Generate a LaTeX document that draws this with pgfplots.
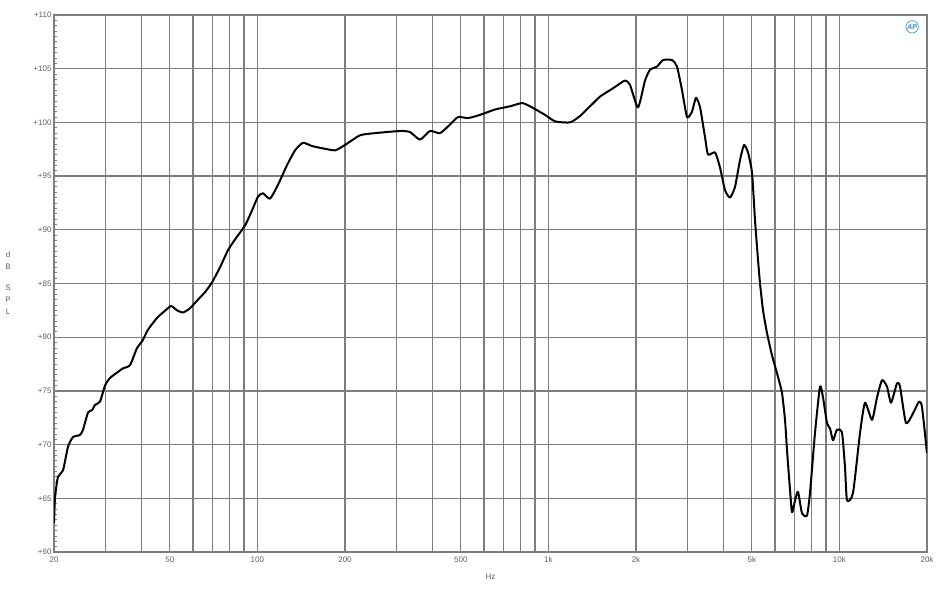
\documentclass[border=0pt]{standalone}
\usepackage{pgfplots}
\pgfplotsset{compat=1.18}
\usepackage{fontspec}
\setmainfont{Liberation Sans}
\definecolor{gridgray}{RGB}{125,125,125}
\definecolor{labgray}{RGB}{95,95,95}
\definecolor{apblue}{RGB}{40,140,190}
\begin{document}
\begin{tikzpicture}[x=1pt,y=1pt]
\useasboundingbox (0,0) rectangle (942,600);
\begin{axis}[
  at={(54pt,48pt)}, anchor=south west,
  scale only axis, width=873pt, height=537pt,
  xmode=log, xmin=20, xmax=20000, ymin=60, ymax=110,
  log basis x=10,
  xtick={20,50,100,200,500,1000,2000,5000,10000,20000},
  xticklabels={20,50,100,200,500,1k,2k,5k,10k,20k},
  minor xtick={30,40,60,70,80,90,300,400,600,700,800,900,3000,4000,6000,7000,8000,9000},
  ytick={60,65,70,75,80,85,90,95,100,105,110},
  yticklabels={+60,+65,+70,+75,+80,+85,+90,+95,+100,+105,+110},
  minor y tick num=9,
  xmajorgrids=true, xminorgrids=true, ymajorgrids=true,
  major grid style={gridgray, line width=1.3pt},
  minor grid style={gridgray, line width=1.3pt},
  axis line style={gridgray, line width=1.4pt},
  tick pos=left, tick align=inside,
  major tick length=0pt, minor tick length=3.5pt,
  minor tick style={gridgray, line width=0.7pt},
  tick label style={font=\fontsize{8}{9}\selectfont, text=labgray},
  xticklabel style={yshift=-1pt},
  yticklabel style={xshift=1pt},
  xlabel={Hz},
  xlabel style={font=\fontsize{8}{9}\selectfont, text=labgray, at={(axis description cs:0.5,-0.047)}, anchor=center},
  ylabel={d\\B\\[9pt]S\\P\\L},
  ylabel style={rotate=-90, align=center, font=\fontsize{8}{12}\selectfont, text=labgray, at={(axis description cs:-0.0527,0.50)}, anchor=center},
  clip=true,
]
\addplot[black, line width=2pt, line join=round, smooth, tension=0.35] table {
f dB
20 62.7
20.16 65.1
20.64 67.0
21.48 67.6
22.34 69.8
23.24 70.7
24.56 70.9
25.17 71.4
26.18 73.0
27.02 73.2
27.66 73.7
28.78 74.0
29.94 75.5
31.14 76.2
32.92 76.7
34.52 77.1
36.50 77.4
38.58 79.0
40.12 79.6
42.08 80.7
45.18 81.8
47.38 82.3
50.48 82.9
52.94 82.5
55.52 82.3
58.68 82.7
62.50 83.5
66.08 84.2
69.82 85.1
74.38 86.5
79.24 88.1
83.76 89.1
90.66 90.4
95.80 91.8
100.5 93.1
104.5 93.4
110.5 92.9
117.7 94.2
126.3 96.0
134.7 97.4
143.4 98.1
154.0 97.8
166.7 97.6
184.8 97.4
200 97.9
225.2 98.8
253.6 99.0
309.0 99.2
334.6 99.1
362.0 98.4
391.8 99.2
424.2 99.0
459.0 99.8
489.0 100.5
529.4 100.4
582.0 100.7
655.4 101.2
738.0 101.5
811.4 101.8
864.4 101.5
973.6 100.7
1053.6 100.1
1186 100.0
1285 100.6
1390 101.5
1504 102.4
1628 103.0
1694 103.3
1833 103.9
1907 103.5
2032 101.4
2148 103.9
2234 104.9
2362 105.2
2476 105.8
2660 105.8
2766 105.2
2878 103.0
2994 100.5
3114 101.0
3216 102.3
3320 101.4
3454 98.6
3536 97.0
3738 97.2
3888 95.8
4044 93.7
4208 93.0
4378 94.0
4554 96.5
4700 97.9
4852 97.2
5008 95.3
5128 90.9
5252 87.2
5336 85.0
5464 82.5
5638 80.4
5868 78.3
6152 76.3
6350 74.8
6502 72.3
6606 69.5
6764 65.8
6874 63.7
7040 64.8
7208 65.6
7438 63.6
7738 63.4
7924 65.5
8244 71.1
8576 75.4
8782 74.4
9066 72.0
9284 71.5
9506 70.4
9812 71.4
10208 71.1
10452 67.9
10620 64.8
11136 65.5
11772 71.1
12246 73.9
12942 72.3
13466 74.4
14010 76.0
14574 75.4
15044 73.9
15772 75.7
16152 75.4
16936 72.0
17902 72.9
18772 74.0
19222 73.5
20000 69.2
};
\node[font=\fontsize{7}{8}\selectfont\bfseries\itshape, text=apblue, draw=apblue, circle, line width=0.6pt, inner sep=0.6pt] at (axis description cs:0.983,0.978) {AP};
\end{axis}
\end{tikzpicture}
\end{document}
